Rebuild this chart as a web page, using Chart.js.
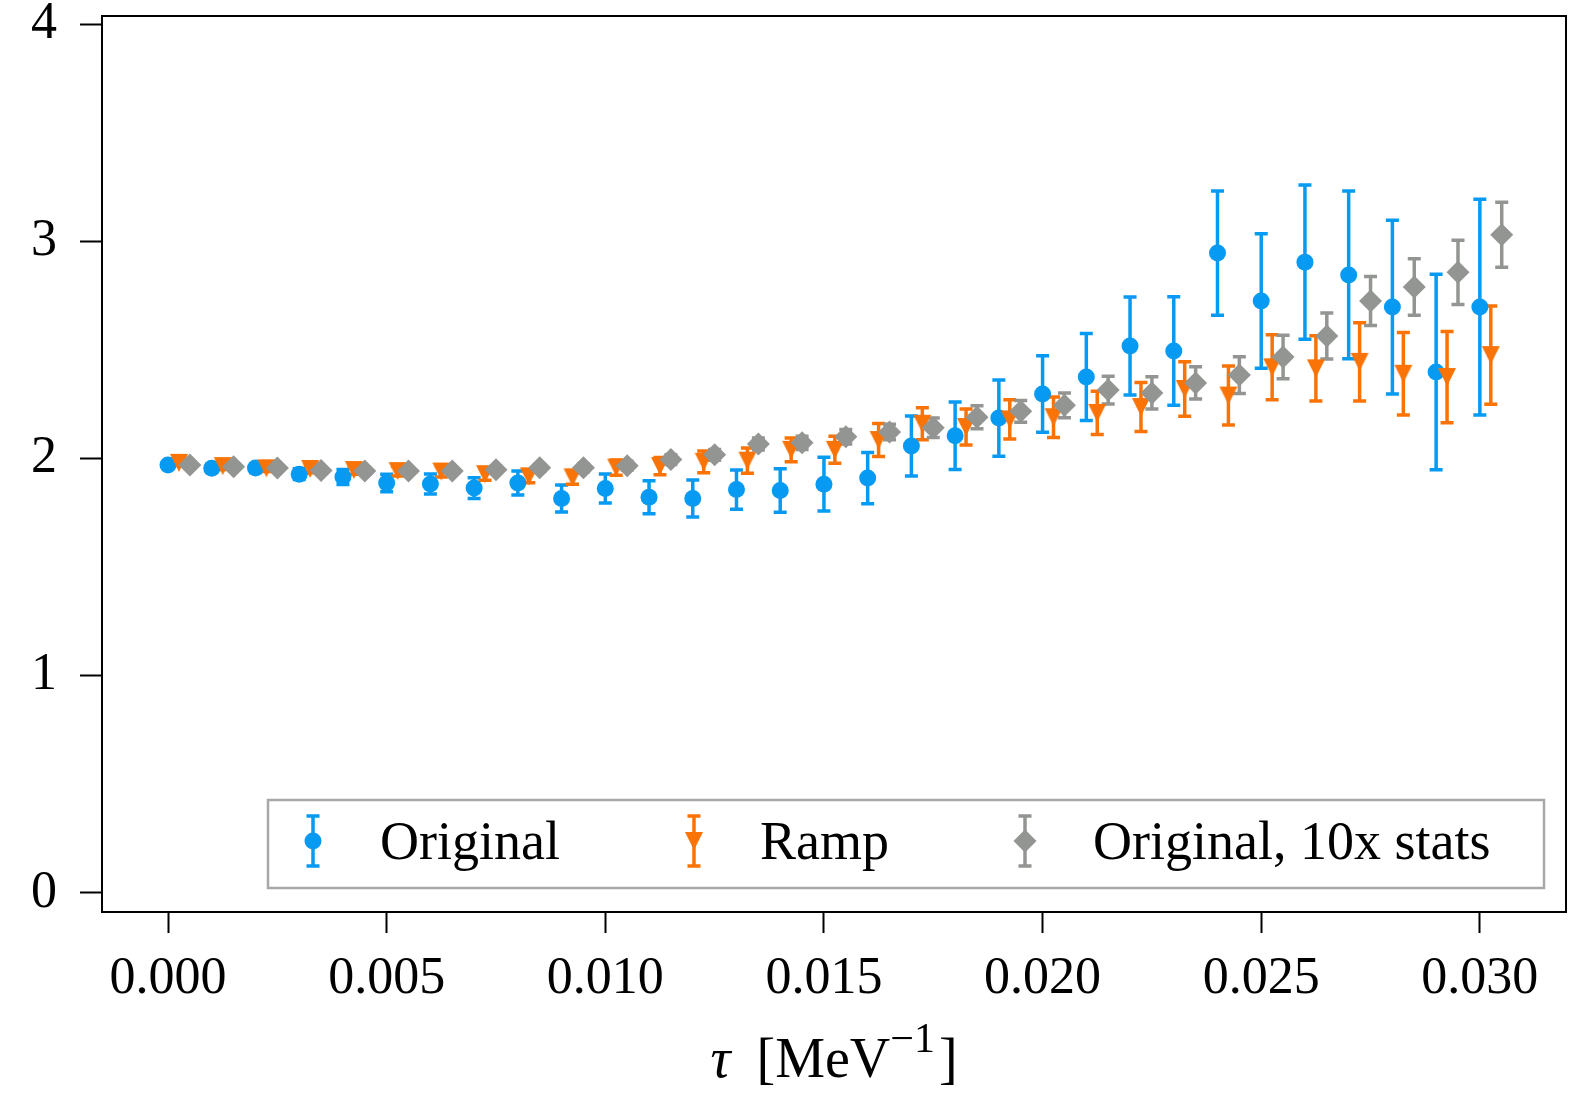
<!DOCTYPE html>
<html>
<head>
<meta charset="utf-8">
<script src="https://cdn.jsdelivr.net/npm/chart.js@4.4.1/dist/chart.umd.min.js"></script>
<style>
  body { margin: 0; background: #fff; }
  canvas { display: block; }
</style>
</head>
<body>
<canvas id="chart" width="1569" height="1096"></canvas>
<script>
// tau values for each series (ramp and 10x are shifted a little to the right)
const tauOrig = [0.000, 0.001, 0.002, 0.003, 0.004, 0.005, 0.006, 0.007, 0.008, 0.009, 0.010,
    0.011, 0.012, 0.013, 0.014, 0.015, 0.016, 0.017, 0.018, 0.019, 0.020,
    0.021, 0.022, 0.023, 0.024, 0.025, 0.026, 0.027, 0.028, 0.029, 0.030];
const tauRamp = [0.00025, 0.00125, 0.00225, 0.00325, 0.00425, 0.00525, 0.00625, 0.00725, 0.00825, 0.00925, 0.01025,
    0.01125, 0.01225, 0.01325, 0.01425, 0.01525, 0.01625, 0.01725, 0.01825, 0.01925, 0.02025,
    0.02125, 0.02225, 0.02325, 0.02425, 0.02525, 0.02625, 0.02725, 0.02825, 0.02925, 0.03025];
const tauStats = [0.0005, 0.0015, 0.0025, 0.0035, 0.0045, 0.0055, 0.0065, 0.0075, 0.0085, 0.0095, 0.0105,
    0.0115, 0.0125, 0.0135, 0.0145, 0.0155, 0.0165, 0.0175, 0.0185, 0.0195, 0.0205,
    0.0215, 0.0225, 0.0235, 0.0245, 0.0255, 0.0265, 0.0275, 0.0285, 0.0295, 0.0305];

const origVals = [1.97, 1.955, 1.956, 1.928, 1.915, 1.887, 1.883, 1.864, 1.887, 1.816, 1.862,
    1.822, 1.816, 1.857, 1.853, 1.882, 1.91, 2.058, 2.105, 2.186, 2.297,
    2.375, 2.518, 2.495, 2.946, 2.725, 2.904, 2.845, 2.697, 2.398, 2.697];
const origErr = [0.015, 0.018, 0.02, 0.025, 0.035, 0.04, 0.046, 0.048, 0.055, 0.062, 0.067,
    0.076, 0.085, 0.09, 0.1, 0.124, 0.118, 0.138, 0.155, 0.175, 0.176,
    0.2, 0.226, 0.25, 0.286, 0.31, 0.355, 0.386, 0.4, 0.45, 0.497];

const rampVals = [1.98, 1.965, 1.955, 1.952, 1.947, 1.942, 1.94, 1.928, 1.918, 1.913, 1.958,
    1.965, 1.985, 1.99, 2.04, 2.04, 2.085, 2.16, 2.145, 2.18, 2.19,
    2.21, 2.237, 2.32, 2.29, 2.42, 2.415, 2.445, 2.39, 2.375, 2.476];
const rampErr = [0.012, 0.015, 0.015, 0.018, 0.02, 0.022, 0.025, 0.028, 0.03, 0.032, 0.035,
    0.04, 0.05, 0.058, 0.055, 0.062, 0.076, 0.074, 0.083, 0.09, 0.093,
    0.1, 0.113, 0.125, 0.136, 0.15, 0.15, 0.18, 0.19, 0.21, 0.226];

const statsVals = [1.97, 1.962, 1.956, 1.945, 1.942, 1.942, 1.943, 1.948, 1.957, 1.957, 1.967,
    1.995, 2.017, 2.067, 2.072, 2.1, 2.122, 2.142, 2.19, 2.217, 2.245,
    2.315, 2.302, 2.348, 2.384, 2.467, 2.564, 2.725, 2.79, 2.857, 3.03];
const statsErr = [0.008, 0.008, 0.01, 0.01, 0.012, 0.012, 0.014, 0.015, 0.017, 0.018, 0.02,
    0.022, 0.025, 0.028, 0.03, 0.033, 0.036, 0.045, 0.053, 0.05, 0.057,
    0.064, 0.074, 0.074, 0.085, 0.1, 0.106, 0.113, 0.13, 0.148, 0.15];

const xTicks = [0.000, 0.005, 0.010, 0.015, 0.020, 0.025, 0.030];
const yTicks = [0, 1, 2, 3, 4];
const seriesNames = ['Original', 'Ramp', 'Original, 10x stats'];

const BLUE = '#069af3';
const ORANGE = '#f97306';
const GREY = '#929591';
const FONT = "'Liberation Serif', 'DejaVu Serif', serif";

// matplotlib style "v" marker as an image
function makeTriangle(color) {
    const c = document.createElement('canvas');
    c.width = 20; c.height = 20;
    const g = c.getContext('2d');
    g.fillStyle = color;
    g.beginPath();
    g.moveTo(1, 1); g.lineTo(19, 1); g.lineTo(10, 19);
    g.closePath();
    g.fill();
    return c;
}
const triDown = makeTriangle(ORANGE);

function toPoints(xs, ys) {
    return xs.map((x, i) => ({ x: x, y: ys[i] }));
}

function drawErrBar(ctx, x, yLo, yHi, color) {
    ctx.strokeStyle = color;
    ctx.lineWidth = 3.5;
    ctx.beginPath();
    ctx.moveTo(x, yLo); ctx.lineTo(x, yHi);
    ctx.moveTo(x - 6.5, yLo); ctx.lineTo(x + 6.5, yLo);
    ctx.moveTo(x - 6.5, yHi); ctx.lineTo(x + 6.5, yHi);
    ctx.stroke();
}

function drawMarker(ctx, kind, x, y) {
    if (kind === 'circle') {
        ctx.fillStyle = BLUE;
        ctx.beginPath();
        ctx.arc(x, y, 8.5, 0, Math.PI * 2);
        ctx.fill();
    } else if (kind === 'tri') {
        ctx.drawImage(triDown, x - 10, y - 10);
    } else {
        ctx.fillStyle = GREY;
        ctx.beginPath();
        ctx.moveTo(x, y - 11.5); ctx.lineTo(x + 11.5, y);
        ctx.lineTo(x, y + 11.5); ctx.lineTo(x - 11.5, y);
        ctx.closePath();
        ctx.fill();
    }
}

// error bars go under all markers, like matplotlib's errorbar
const errorBars = {
    id: 'errorBars',
    beforeDatasetsDraw(chart) {
        const ctx = chart.ctx;
        const xs = chart.scales.x, ys = chart.scales.y;
        ctx.save();
        [0, 1, 2].forEach(di => {
            const ds = chart.data.datasets[di];
            ds.data.forEach((p, i) => {
                const e = ds.errors[i];
                drawErrBar(ctx, xs.getPixelForValue(p.x), ys.getPixelForValue(p.y - e),
                    ys.getPixelForValue(p.y + e), ds.barColor);
            });
        });
        ctx.restore();
    }
};

const frameAndLegend = {
    id: 'frameAndLegend',
    afterDraw(chart) {
        const ctx = chart.ctx;
        const a = chart.chartArea;
        ctx.save();
        // axes box
        ctx.strokeStyle = '#000';
        ctx.lineWidth = 2;
        ctx.strokeRect(a.left, a.top, a.right - a.left, a.bottom - a.top);

        // legend
        ctx.fillStyle = 'rgba(255,255,255,0.8)';
        ctx.fillRect(268, 800, 1276, 88);
        ctx.strokeStyle = '#a8a8a8';
        ctx.lineWidth = 2.5;
        ctx.strokeRect(268, 800, 1276, 88);
        const entries = [
            { mx: 313, tx: 380, color: BLUE, kind: 'circle' },
            { mx: 694, tx: 760, color: ORANGE, kind: 'tri' },
            { mx: 1025, tx: 1093, color: GREY, kind: 'diamond' }
        ];
        ctx.font = '54px ' + FONT;
        ctx.textBaseline = 'alphabetic';
        ctx.textAlign = 'left';
        entries.forEach((en, i) => {
            drawErrBar(ctx, en.mx, 866, 816, en.color);
            drawMarker(ctx, en.kind, en.mx, 841);
            ctx.fillStyle = '#000';
            ctx.fillText(seriesNames[i], en.tx, 859);
        });

        // x axis title: tau [MeV^-1]
        const parts = [
            { t: 'τ', f: 'italic 56px ' + FONT, dy: 0, gap: 12 },
            { t: ' [MeV', f: '56px ' + FONT, dy: 0, gap: 0 },
            { t: '−1', f: '42px ' + FONT, dy: -25, gap: 4 },
            { t: ']', f: '56px ' + FONT, dy: 0, gap: 0 }
        ];
        let total = 0;
        parts.forEach(p => { ctx.font = p.f; p.w = ctx.measureText(p.t).width; total += p.w + p.gap; });
        let x = (a.left + a.right) / 2 - total / 2;
        parts.forEach(p => {
            ctx.font = p.f;
            ctx.fillText(p.t, x, 1077 + p.dy);
            x += p.w + p.gap;
        });
        ctx.restore();
    }
};

const ctx = document.getElementById('chart').getContext('2d');
const chart = new Chart(ctx, {
    type: 'scatter',
    data: {
        datasets: [{
            label: seriesNames[0],
            data: toPoints(tauOrig, origVals),
            errors: origErr,
            barColor: BLUE,
            backgroundColor: BLUE,
            borderColor: BLUE,
            pointStyle: 'circle',
            pointRadius: 8.5,
            borderWidth: 0,
            order: 2
        }, {
            label: seriesNames[1],
            data: toPoints(tauRamp, rampVals),
            errors: rampErr,
            barColor: ORANGE,
            backgroundColor: ORANGE,
            borderColor: ORANGE,
            pointStyle: triDown,
            pointRadius: 10,
            borderWidth: 0,
            order: 1
        }, {
            label: seriesNames[2],
            data: toPoints(tauStats, statsVals),
            errors: statsErr,
            barColor: GREY,
            backgroundColor: GREY,
            borderColor: GREY,
            pointStyle: 'rectRot',
            pointRadius: 11.5,
            borderWidth: 0,
            order: 0
        }]
    },
    options: {
        responsive: false,
        devicePixelRatio: 1,
        animation: false,
        layout: { autoPadding: false, padding: { top: 16, right: 3, left: 0, bottom: 0 } },
        plugins: {
            legend: { display: false },
            tooltip: { enabled: false }
        },
        scales: {
            x: {
                type: 'linear',
                min: -0.00151,
                max: 0.03197,
                afterBuildTicks: s => { s.ticks = xTicks.map(v => ({ value: v })); },
                afterFit: s => { s.height = 184; s.paddingLeft = 0; s.paddingRight = 0; },
                border: { display: false },
                grid: { drawOnChartArea: false, drawTicks: true, tickLength: 21, tickWidth: 2, tickColor: '#000' },
                ticks: {
                    color: '#000',
                    padding: 15,
                    maxRotation: 0,
                    font: { family: FONT, size: 52 },
                    callback: v => v.toFixed(3)
                }
            },
            y: {
                type: 'linear',
                min: -0.0875,
                max: 4.037,
                afterBuildTicks: s => { s.ticks = yTicks.map(v => ({ value: v })); },
                afterFit: s => { s.width = 102; s.paddingTop = 0; s.paddingBottom = 0; },
                border: { display: false },
                grid: { drawOnChartArea: false, drawTicks: true, tickLength: 22, tickWidth: 2, tickColor: '#000' },
                ticks: {
                    color: '#000',
                    padding: 23,
                    font: { family: FONT, size: 52 },
                    callback: v => String(v)
                }
            }
        }
    },
    plugins: [errorBars, frameAndLegend]
});
</script>
</body>
</html>
